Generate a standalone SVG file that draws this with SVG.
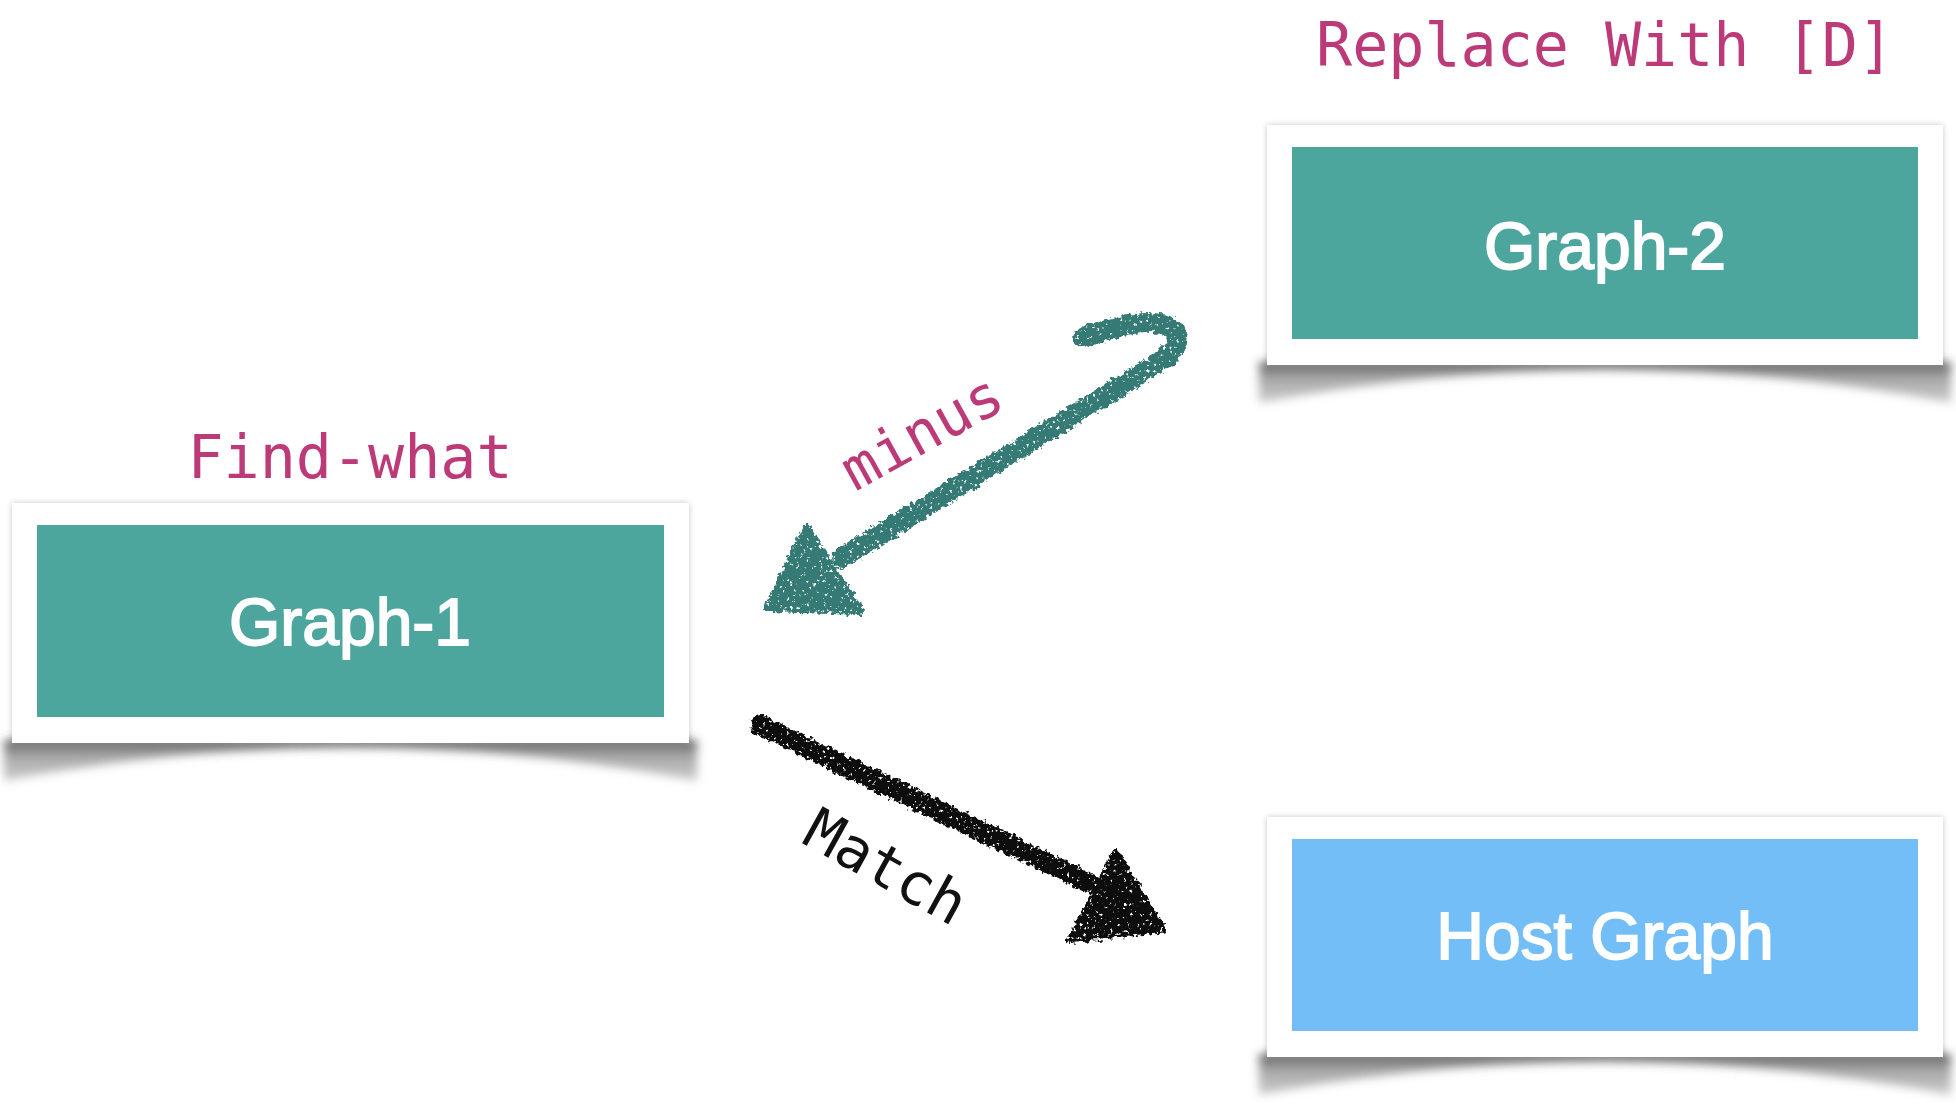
<svg xmlns="http://www.w3.org/2000/svg" width="1956" height="1104" viewBox="0 0 1956 1104">
  <style>
    .card { fill: #ffffff; }
    .inner-teal { fill: #4ca69d; }
    .inner-blue { fill: #74bef8; }
    .node-text { font-family: "Liberation Sans", Arial, sans-serif; font-size: 66px; fill: #ffffff; stroke: #ffffff; stroke-width: 1.8px; text-anchor: middle; }
    .label { font-family: "DejaVu Sans Mono", "Liberation Mono", monospace; font-size: 60px; fill: #bc3a78; text-anchor: middle; }
    .edge-label { font-family: "DejaVu Sans Mono", "Liberation Mono", monospace; font-size: 58px; }
    .shadow { fill: url(#shadowGrad); filter: url(#blur); }
  </style>
  <defs>
    <linearGradient id="shadowGrad" x1="0" y1="0" x2="0" y2="1">
      <stop offset="0" stop-color="#3c3c3c" stop-opacity="0.9"/>
      <stop offset="0.35" stop-color="#858585" stop-opacity="0.75"/>
      <stop offset="1" stop-color="#b8b8b8" stop-opacity="0.7"/>
    </linearGradient>
    <filter id="blur" x="-10%" y="-50%" width="120%" height="200%">
      <feGaussianBlur stdDeviation="5"/>
    </filter>
    <filter id="edgeShadow" x="-5%" y="-5%" width="110%" height="110%">
      <feGaussianBlur in="SourceAlpha" stdDeviation="3"/>
      <feComponentTransfer><feFuncA type="linear" slope="0.22"/></feComponentTransfer>
      <feMerge><feMergeNode/><feMergeNode in="SourceGraphic"/></feMerge>
    </filter>
    <filter id="chalk" x="-10%" y="-10%" width="120%" height="120%">
      <feTurbulence type="fractalNoise" baseFrequency="0.22" numOctaves="2" seed="3" result="n"/>
      <feDisplacementMap in="SourceGraphic" in2="n" scale="9" xChannelSelector="R" yChannelSelector="G" result="d"/>
      <feTurbulence type="fractalNoise" baseFrequency="0.3" numOctaves="2" seed="11" result="n2"/>
      <feColorMatrix in="n2" type="matrix" values="0 0 0 0 0  0 0 0 0 0  0 0 0 0 0  0 0 0 -9 6.8" result="mask"/>
      <feComposite in="d" in2="mask" operator="in"/>
    </filter>
  </defs>

  <rect width="1956" height="1104" fill="#ffffff"/>

  <!-- Labels -->
  <text class="label" x="1605" y="66">Replace With [D]</text>
  <text class="label" x="350" y="478">Find-what</text>

  <!-- Nodes -->
  <g id="graph1">
    <path class="shadow" d="M4,740 L697,740 L697,781 Q350,714 4,781 Z"/>
    <rect class="card" x="12" y="503" width="677" height="240" filter="url(#edgeShadow)"/>
    <rect class="inner-teal" x="37" y="525" width="627" height="192"/>
    <text class="node-text" x="350" y="645">Graph-1</text>
  </g>

  <g id="graph2">
    <path class="shadow" d="M1259,362 L1951,362 L1951,403 Q1605,336 1259,403 Z"/>
    <rect class="card" x="1267" y="125" width="676" height="240" filter="url(#edgeShadow)"/>
    <rect class="inner-teal" x="1292" y="147" width="626" height="192"/>
    <text class="node-text" x="1605" y="269">Graph-2</text>
  </g>

  <g id="host">
    <path class="shadow" d="M1259,1054 L1951,1054 L1951,1095 Q1605,1028 1259,1095 Z"/>
    <rect class="card" x="1267" y="817" width="676" height="240" filter="url(#edgeShadow)"/>
    <rect class="inner-blue" x="1292" y="839" width="626" height="192"/>
    <text class="node-text" x="1605" y="959">Host Graph</text>
  </g>

  <!-- Connectors -->
  <g id="connectors">
    <g id="edge-minus" filter="url(#chalk)">
      <path d="M1083,338 C1110,328 1150,316 1172,328 C1186,338 1172,356 1150,368 L842,558" fill="none" stroke="#367a74" stroke-width="20" stroke-linecap="round" stroke-linejoin="round"/>
      <polygon points="806,528 768,608 860,611" fill="#367a74" stroke="#367a74" stroke-width="8" stroke-linejoin="round"/>
    </g>
    <g id="edge-match" filter="url(#chalk)">
      <path d="M760,725 L1095,886" fill="none" stroke="#111111" stroke-width="20" stroke-linecap="round"/>
      <polygon points="1116,854 1071,939 1162,929" fill="#111111" stroke="#111111" stroke-width="8" stroke-linejoin="round"/>
    </g>
    <text class="edge-label" fill="#bc3a78" transform="translate(855,492) rotate(-29)">minus</text>
    <text class="edge-label" fill="#111111" transform="translate(800,842) rotate(29)">Match</text>
  </g>
</svg>
